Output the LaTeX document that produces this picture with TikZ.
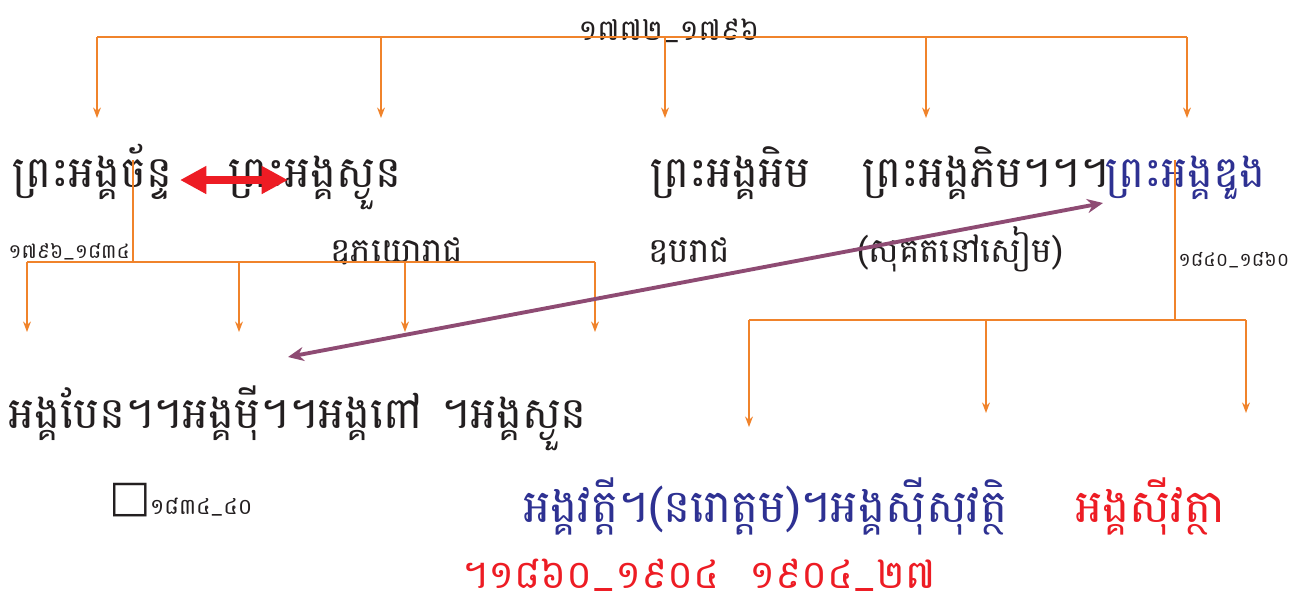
\documentclass[tikz,border=0pt]{standalone}
\usepackage{fontspec}
\usepackage{xcolor}
\usetikzlibrary{arrows.meta}
\newfontfamily\khfont[Script=Khmer]{Battambang}
\newfontfamily\boxfont{DejaVu Sans}
\definecolor{ink}{HTML}{231F20}
\definecolor{treeorange}{HTML}{F0832B}
\definecolor{kred}{HTML}{ED1C24}
\definecolor{kblue}{HTML}{2E3192}
\definecolor{kplum}{HTML}{8E4B73}

\begin{document}
\begin{tikzpicture}[x=0.02cm, y=-0.02cm, >=Stealth]
  \tikzset{
    king/.style={anchor=base west, inner sep=0pt, text=ink,
      font=\khfont\fontsize{24.8}{30}\selectfont},
    heir/.style={anchor=base west, inner sep=0pt, text=ink,
      font=\khfont\fontsize{26}{30}\selectfont},
    title/.style={anchor=base west, inner sep=0pt, text=ink,
      font=\khfont\fontsize{19.5}{22}\selectfont},
    years/.style={anchor=base west, inner sep=0pt, text=ink,
      font=\khfont\fontsize{11.4}{14}\selectfont},
    bigyears/.style={anchor=base west, inner sep=0pt, text=ink,
      font=\khfont\fontsize{16.5}{20}\selectfont},
    tree/.style={treeorange, line width=0.75pt},
    down/.style={tree, -{Stealth[length=6pt, width=4.5pt]}},
  }
  \useasboundingbox (0,0) rectangle (1296,610);

  % Top generation
  \node[bigyears] (reign1) at (578,40) {១៧៧២\_១៧៩៦};
  \coordinate (top1) at (97,37);
  \coordinate (top2) at (381,37);
  \coordinate (top3) at (665,37);
  \coordinate (top4) at (926,37);
  \coordinate (top5) at (1187,37);
  \draw[tree] (top1) -- (top5);
  \foreach \i in {1,...,5}
    \draw[down] (top\i) -- ++(0,81);

  % Sons
  \node[king] (chan) at (12,187) {ព្រះអង្គច័ន្ទ};
  \node[king] (snguon) at (228,187) {ព្រះអង្គស្ងួន};
  \node[king] (im) at (650,187) {ព្រះអង្គអិម};
  \node[king] (phim) at (862,187) {ព្រះអង្គភិម។។។};
  \node[king, text=kblue] (duong) at (1105,187) {ព្រះអង្គឌួង};

  % Titles and reigns
  \node[years] (reign2) at (8,258) {១៧៩៦\_១៨៣៤};
  \node[title] (uphayo) at (330,262) {ឧភយោរាជ};
  \node[title] (uprach) at (648,262) {ឧបរាជ};
  \node[title] (siam) at (857,262) {(សុគតនៅសៀម)};
  \node[years, font=\khfont\fontsize{10.8}{13}\selectfont] (reign3) at (1178,266) {១៨៤០\_១៨៦០};

  % Rivalry
  \coordinate (rivL) at (180,180);
  \coordinate (rivR) at (288,180);
  \draw[kred, line width=4.5pt, {Triangle[length=15pt, width=15pt]}-{Triangle[length=15pt, width=15pt]}]
    (rivL) -- (rivR);

  % Daughters of Ang Chan
  \coordinate (chanV) at (133,160);
  \coordinate (chanH) at (133,262);
  \coordinate (dau1) at (27,262);
  \coordinate (dau2) at (239,262);
  \coordinate (dau3) at (405,262);
  \coordinate (dau4) at (595,262);
  \draw[tree] (chanV) -- (chanH);
  \draw[tree] (dau1) -- (dau4);
  \foreach \i in {1,...,4}
    \draw[down] (dau\i) -- ++(0,70);
  \node[king] (daughters) at (8,428) {អង្គបែន។។អង្គម៉ី។។អង្គពៅ\hspace{11pt}។អង្គស្ងួន};
  \node[years, font=\boxfont\fontsize{25}{28}\selectfont] (box) at (109,511) {□};
  \node[years, font=\khfont\fontsize{12.6}{15}\selectfont] (reign4) at ([xshift=-1pt, yshift=-2pt]box.base east) {១៨៣៤\_៤០};

  % Sons of Ang Duong
  \coordinate (duongV) at (1175,160);
  \coordinate (duongH) at (1175,320);
  \coordinate (son1) at (749,320);
  \coordinate (son2) at (986,320);
  \coordinate (son3) at (1246,320);
  \draw[tree] (duongV) -- (duongH);
  \draw[tree] (son1) -- (son3);
  \draw[down] (son1) -- ++(0,107);
  \draw[down] (son2) -- ++(0,93);
  \draw[down] (son3) -- ++(0,93);
  \node[heir, text=kblue] (norodom) at (523,522) {អង្គវត្តី។(នរោត្តម)។អង្គស៊ីសុវត្ថិ};
  \node[heir, text=kred] (sivotha) at (1075,522) {អង្គស៊ីវត្ថា};
  \node[bigyears, text=kred, font=\khfont\fontsize{22.5}{26}\selectfont] (reign5) at (462,588) {។១៨៦០\_១៩០៤\hspace{17pt}១៩០៤\_២៧};

  % Link
  \coordinate (linkL) at (288,357);
  \coordinate (linkR) at (1103,203);
  \draw[kplum, line width=2.2pt, {Stealth[length=9pt, width=8pt]}-{Stealth[length=9pt, width=8pt]}]
    (linkL) -- (linkR);
\end{tikzpicture}
\end{document}
